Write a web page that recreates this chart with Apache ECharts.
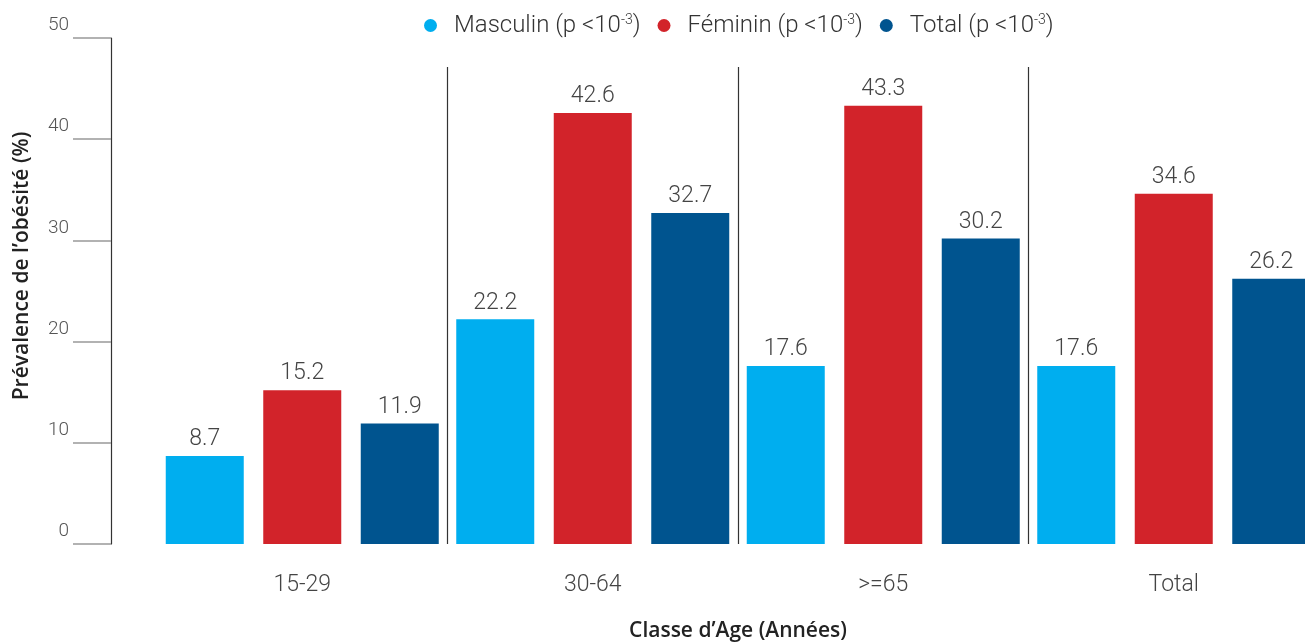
<!DOCTYPE html>
<html>
<head>
<meta charset="utf-8">
<script src="https://cdn.jsdelivr.net/npm/echarts@6/dist/echarts.min.js"></script>
<style>html,body{margin:0;padding:0;background:#fff}#c{width:1305px;height:642px}</style>
</head>
<body>
<div id="c"></div>
<script>
const categories = ['15-29', '30-64', '>=65', 'Total'];
const masculin = [8.7, 22.2, 17.6, 17.6];
const feminin = [15.2, 42.6, 43.3, 34.6];
const total = [11.9, 32.7, 30.2, 26.2];
const seriesNames = ['Masculin', 'Féminin', 'Total'];
const yTicks = [0, 10, 20, 30, 40, 50];
const colors = ['#00AEEF', '#D2232A', '#00548F'];

const FONT = 'Roboto';
const chart = echarts.init(document.getElementById('c'));

const valueLabel = {
  show: true, position: 'top', distance: 5,
  fontFamily: FONT, fontWeight: 300, fontSize: 23, color: '#444'
};
function barSeries(name, data, color) {
  return {
    name: name, type: 'bar', data: data, barWidth: 78, barGap: '25%',
    itemStyle: { color: color }, label: valueLabel, xAxisIndex: 0, yAxisIndex: 0
  };
}

chart.setOption({
  animation: false,
  color: colors,
  legend: {
    top: 8, left: 419, icon: 'circle', itemWidth: 13, itemHeight: 13, itemGap: 17,
    data: seriesNames,
    formatter: function (n) { return '{g|}{t|' + n + ' (p <10}{s|-3}{t|)}'; },
    textStyle: {
      rich: {
        g: { width: 12 },
        t: { fontFamily: FONT, fontWeight: 300, fontSize: 24, color: '#333' },
        s: { fontFamily: FONT, fontWeight: 300, fontSize: 14, color: '#333', padding: [0, 0, 11, 0] }
      }
    }
  },
  grid: [
    { left: 157, width: 1162, top: 38, bottom: 98, containLabel: false, outerBoundsMode: 'none' },
    { left: 157, width: 1162, top: 67, bottom: 98, containLabel: false, outerBoundsMode: 'none' }
  ],
  xAxis: [
    {
      type: 'category', data: categories, gridIndex: 0,
      axisLine: { show: false }, axisTick: { show: false },
      axisLabel: { margin: 30, fontFamily: FONT, fontWeight: 300, fontSize: 23, color: '#444' },
      name: 'Classe d\u2019Age (Années)', nameLocation: 'middle', nameGap: 77,
      nameTextStyle: { fontFamily: 'Open Sans', fontWeight: 600, fontSize: 21, color: '#222' }
    },
    {
      type: 'category', data: categories, gridIndex: 1,
      axisLine: { show: false }, axisTick: { show: false }, axisLabel: { show: false },
      splitLine: { show: true, showMinLine: false, showMaxLine: false, lineStyle: { color: '#333', width: 1.2 } }
    }
  ],
  yAxis: [
    {
      type: 'value', gridIndex: 0, min: 0, max: 50, interval: 10, offset: 46,
      axisLine: { show: true, lineStyle: { color: '#333', width: 1.2 } },
      axisTick: { show: true, length: 38, lineStyle: { color: '#999', width: 1.5 } },
      axisLabel: {
        margin: 42, verticalAlign: 'bottom', padding: [0, 0, 3, 0],
        fontFamily: FONT, fontWeight: 300, fontSize: 19, color: '#555',
        formatter: function (v) { return yTicks.indexOf(v) >= 0 ? String(v) : ''; }
      },
      splitLine: { show: false }
    },
    { type: 'value', gridIndex: 1, show: false, min: 0, max: 50 }
  ],
  graphic: [{
    type: 'text', x: 22, y: 266, rotation: Math.PI / 2,
    style: {
      text: 'Prévalence de l\u2019obésité (%)', textAlign: 'center', textVerticalAlign: 'middle',
      font: '600 21px "Open Sans"', fill: '#222'
    }
  }],
  series: [
    barSeries(seriesNames[0], masculin, colors[0]),
    barSeries(seriesNames[1], feminin, colors[1]),
    barSeries(seriesNames[2], total, colors[2])
  ]
});
</script>
</body>
</html>
